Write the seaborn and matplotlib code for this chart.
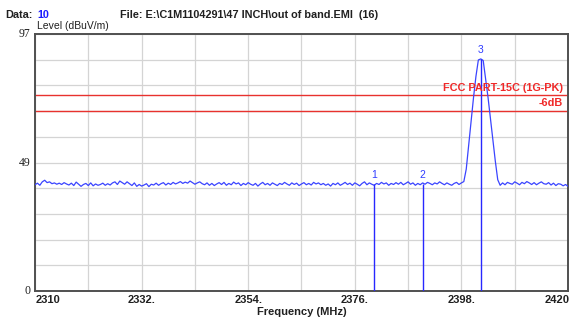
import numpy as np
import pandas as pd
import matplotlib
matplotlib.use("Agg")
import matplotlib.pyplot as plt
import seaborn as sns

# ---- data ----
freq_start, freq_stop, freq_step = 2310.0, 2420.0, 0.5
noise_low = [
    40.1,40.7,39.9,41.2,41.8,40.9,41.2,40.5,40.8,40.3,
    40.7,40.2,40.9,40.4,40.0,40.7,39.8,41.1,40.3,39.5,
    40.2,40.6,39.8,40.8,39.7,40.4,39.9,40.2,40.7,39.9,
    40.5,40.0,40.8,41.2,40.2,41.5,40.9,40.3,41.2,40.5,
    39.8,40.8,39.5,40.2,39.6,40.0,40.5,39.4,40.3,40.0,
    40.7,39.9,40.5,40.9,40.0,40.7,40.2,41.0,40.4,40.8,
    41.3,40.6,41.1,40.7,41.5,40.9,40.3,40.8,41.2,40.5,
    40.1,40.8,39.9,40.6,39.8,40.4,40.9,40.2,41.0,39.9,
    40.6,40.1,41.1,40.4,40.8,39.8,40.6,40.1,40.9,40.3,
    39.9,40.6,39.6,40.4,41.0,40.1,40.6,39.9,40.8,40.3,
    39.8,40.6,40.2,41.0,40.4,39.9,40.8,40.2,40.7,39.8,
    40.4,40.9,40.1,40.6,40.0,41.0,40.4,40.8,40.1,40.6,
    39.9,40.4,39.6,40.6,40.1,40.8,39.9,40.4,41.0,40.2,
    40.7,39.9,40.8,40.3,39.7,40.6,41.2,40.1,40.8,40.3,
    39.9,40.6,40.2,41.0,40.4,40.8,39.9,40.6,40.2,40.9,
    40.3,41.0,40.1,40.6,41.2,40.3,40.8,39.9,40.6,40.1,
    40.8,40.3,41.0,40.6,40.1,40.8,40.4,41.2,40.6,40.1,
    40.8,40.3,39.9,40.6,41.0,40.2,40.8,41.3,
]
peak = [46.0,55.0,64.0,73.0,81.0,87.2,87.6,87.0,80.0,73.0,65.0,57.0,49.0,42.0]
noise_high = [
    39.9,40.8,40.1,41.0,40.6,40.3,41.2,40.7,40.1,41.0,
    40.5,41.3,40.8,40.2,40.9,40.1,40.7,41.2,40.5,40.3,
    40.9,40.0,40.7,39.8,40.5,40.3,39.7,40.2,39.5,
]
levels = noise_low + peak + noise_high

marker_ids = ["1", "2", "3"]
marker_freq = [2380.0, 2390.0, 2402.0]
marker_level = [40.5, 40.4, 87.6]

limit_values = [74.0, 68.0]
limit_labels = ["FCC PART-15C (1G-PK)", "-6dB"]

y_max = 97
x_tick_labels = ["2310", "2332.", "2354.", "2376.", "2398.", "2420"]
y_tick_labels = ["0", "49", "97"]

# ---- plot ----
sns.set_style("white")
plt.rcParams["font.family"] = ["Liberation Sans", "DejaVu Sans"]

freqs = np.arange(freq_start, freq_stop + freq_step / 2, freq_step)
df = pd.DataFrame({"Frequency": freqs, "Level": levels})

fig = plt.figure(figsize=(5.76, 3.2), dpi=100)
ax = fig.add_axes([35 / 576, 1 - 291 / 320, 533 / 576, 257 / 320])

trace_color = "#3a44ff"
sns.lineplot(data=df, x="Frequency", y="Level", ax=ax, color=trace_color,
             linewidth=0.9, zorder=3)

ax.set_xlim(freq_start, freq_stop)
ax.set_ylim(0, y_max)

# grid
ax.set_xticks(np.linspace(freq_start, freq_stop, 11))
ax.set_yticks(np.linspace(0, y_max, 11))
ax.grid(True, color="#d4d4d4", linewidth=0.9, zorder=0)
ax.tick_params(axis="both", length=0, labelbottom=False, labelleft=False)
ax.set_xlabel("")
ax.set_ylabel("")

for s in ax.spines.values():
    s.set_color("#505050")
    s.set_linewidth(1.4)

# x tick labels
xlab_pos = np.linspace(freq_start, freq_stop, len(x_tick_labels))
for i, (xp, lab) in enumerate(zip(xlab_pos, x_tick_labels)):
    ha, dx = "center", 0.0
    if i == 0:
        ha, dx = "left", 0.1
    elif i == len(x_tick_labels) - 1:
        ha, dx = "right", 0.4
    ax.text(xp + dx, -1.4, lab, ha=ha, va="top", fontsize=8,
            fontweight="bold", color="#202020", clip_on=False)

# y tick labels
for lab, yp in zip(y_tick_labels, [0, y_max / 2, y_max]):
    ax.text(freq_start - 1.0, yp, lab, ha="right", va="center", fontsize=8.5,
            family=["Liberation Serif", "DejaVu Serif"], color="#202020",
            clip_on=False)

ax.text(0.5 * (freq_start + freq_stop), -8.0, "Frequency (MHz)", ha="center",
        va="center", fontsize=8, fontweight="bold", color="#202020",
        clip_on=False)

# limit lines
for val, lab in zip(limit_values, limit_labels):
    ax.axhline(val, color="#e8322e", linewidth=1.0, zorder=2)
    ax.text(freq_stop - 1.0, val + 0.9, lab, ha="right", va="bottom",
            fontsize=7.8, fontweight="bold", color="#f02828", zorder=4)

# markers
ax.vlines(marker_freq, 0, marker_level, color="#2828ff", linewidth=1.0, zorder=3)
for mid, mf, ml in zip(marker_ids, marker_freq, marker_level):
    ax.text(mf, ml + 1.5, mid, ha="center", va="bottom", fontsize=7.5,
            color="#2f3cff", zorder=4)

# header text
fig.text(5 / 576, 1 - 15 / 320, "Data:", ha="left", va="center", fontsize=7.8,
         fontweight="bold", color="#202020")
fig.text(37 / 576, 1 - 15 / 320, "10", ha="left", va="center", fontsize=7.8,
         fontweight="bold", color="#1a1aff")
fig.text(120 / 576, 1 - 15 / 320,
         "File: E:\\C1M1104291\\47 INCH\\out of band.EMI  (16)",
         ha="left", va="center", fontsize=7.8, fontweight="bold",
         color="#202020")
fig.text(37 / 576, 1 - 26 / 320, "Level (dBuV/m)", ha="left", va="center",
         fontsize=7.5, color="#202020")

fig.savefig("out.png", dpi=100)
